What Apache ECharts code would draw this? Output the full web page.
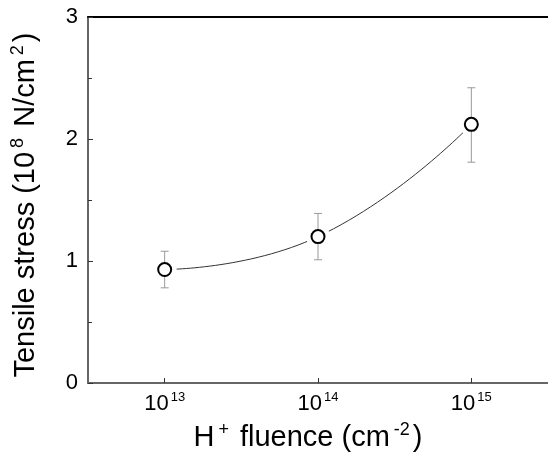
<!DOCTYPE html>
<html>
<head>
    <meta charset="UTF-8">
    <title></title>
    <script type="text/javascript" src="https://cdn.jsdelivr.net/npm/echarts@6/dist/echarts.min.js"></script>
    <style type="text/css">
        html, body { margin: 0; padding: 0; background: #fff; }
        #chart { width: 548px; height: 459px; }
    </style>
</head>
<body>
<div id="chart"></div>
<script type="text/javascript">
    // H+ fluence (cm^-2) and tensile stress (10^8 N/cm^2)
    var fluence = [1e13, 1e14, 1e15];
    var stress = [0.93, 1.20, 2.12];
    var errLow = [0.78, 1.01, 1.81];
    var errHigh = [1.08, 1.39, 2.42];
    var xTicks = [1e13, 1e14, 1e15];
    var yTicks = [0, 1, 2, 3];

    var pts = [], bars = [];
    for (var i = 0; i < fluence.length; i++) {
        pts.push([fluence[i], stress[i]]);
        bars.push([fluence[i], errLow[i], errHigh[i]]);
    }

    var font = 'Liberation Sans';
    var nameRich = {
        t: { fontSize: 29, lineHeight: 34, fontFamily: font, color: '#000' },
        u: { fontSize: 18, lineHeight: 17, fontFamily: font, color: '#000', verticalAlign: 'top', padding: [0, 3, 0, 4] }
    };

    var myChart = echarts.init(document.getElementById('chart'));
    myChart.setOption({
        animation: false,
        grid: { left: 88, right: 0, top: 17, bottom: 76 },
        xAxis: [{
            type: 'log',
            logBase: 10,
            min: Math.pow(10, 12.5),
            max: Math.pow(10, 15.5),
            name: '{t|H}{u|+}{t| fluence (cm}{u|-2}{t|)}',
            nameLocation: 'middle',
            nameGap: 38,
            nameTextStyle: { fontSize: 29, fontFamily: font, color: '#000', rich: nameRich, padding: [0, 20, 0, 0] },
            axisLine: { lineStyle: { color: '#666', width: 2 } },
            axisTick: { inside: true, length: 5, customValues: xTicks, lineStyle: { color: '#333' } },
            splitLine: { show: false },
            minorTick: { show: false },
            axisLabel: {
                margin: 8,
                fontSize: 22,
                fontFamily: font,
                color: '#000',
                customValues: xTicks,
                formatter: function (v) {
                    return '{b|10}{s|' + Math.round(Math.log10(v)) + '}';
                },
                rich: {
                    b: { fontSize: 22, lineHeight: 26, fontFamily: font, color: '#000' },
                    s: { fontSize: 13, lineHeight: 14, fontFamily: font, color: '#000', verticalAlign: 'top', padding: [0, 0, 0, 2] }
                }
            }
        }, {
            type: 'value',
            position: 'top',
            min: 0,
            max: 1,
            axisLine: { show: true, onZero: false, lineStyle: { color: '#000', width: 2 } },
            axisTick: { show: false },
            axisLabel: { show: false },
            splitLine: { show: false }
        }],
        yAxis: {
            type: 'value',
            min: 0,
            max: 3,
            interval: 1,
            name: '{t|Tensile stress (10}{u|8}{t| N/cm}{u|2}{t|)}',
            nameLocation: 'middle',
            nameGap: 45,
            nameTextStyle: { fontSize: 29, fontFamily: font, color: '#000', rich: nameRich, padding: [0, 10, 0, 0] },
            axisLine: { show: true, lineStyle: { color: '#666', width: 2 } },
            axisTick: { show: true, inside: true, length: 5, lineStyle: { color: '#333' } },
            minorTick: { show: true, splitNumber: 2, length: 4, lineStyle: { color: '#333' } },
            splitLine: { show: false },
            axisLabel: {
                margin: 10,
                fontSize: 22,
                fontFamily: font,
                color: '#000',
                formatter: function (v) { return yTicks.indexOf(v) >= 0 ? String(v) : ''; }
            }
        },
        series: [{
            type: 'line',
            data: pts,
            smooth: 0.5,
            symbol: 'none',
            lineStyle: { color: '#333', width: 1 },
            z: 1
        }, {
            // white halo around markers
            type: 'scatter',
            data: pts,
            symbol: 'circle',
            symbolSize: 24,
            itemStyle: { color: '#fff', opacity: 1 },
            silent: true,
            z: 2
        }, {
            type: 'custom',
            data: bars,
            z: 3,
            renderItem: function (params, api) {
                var x = api.value(0);
                var lo = api.coord([x, api.value(1)]);
                var hi = api.coord([x, api.value(2)]);
                var cap = 4;
                var st = { stroke: '#999', lineWidth: 1 };
                return {
                    type: 'group',
                    children: [
                        { type: 'line', shape: { x1: lo[0], y1: lo[1], x2: hi[0], y2: hi[1] }, style: st },
                        { type: 'line', shape: { x1: lo[0] - cap, y1: lo[1], x2: lo[0] + cap, y2: lo[1] }, style: st },
                        { type: 'line', shape: { x1: hi[0] - cap, y1: hi[1], x2: hi[0] + cap, y2: hi[1] }, style: st }
                    ]
                };
            }
        }, {
            type: 'scatter',
            data: pts,
            symbol: 'circle',
            symbolSize: 13,
            itemStyle: { color: '#fff', borderColor: '#000', borderWidth: 2, opacity: 1 },
            z: 4
        }]
    });
</script>
</body>
</html>
